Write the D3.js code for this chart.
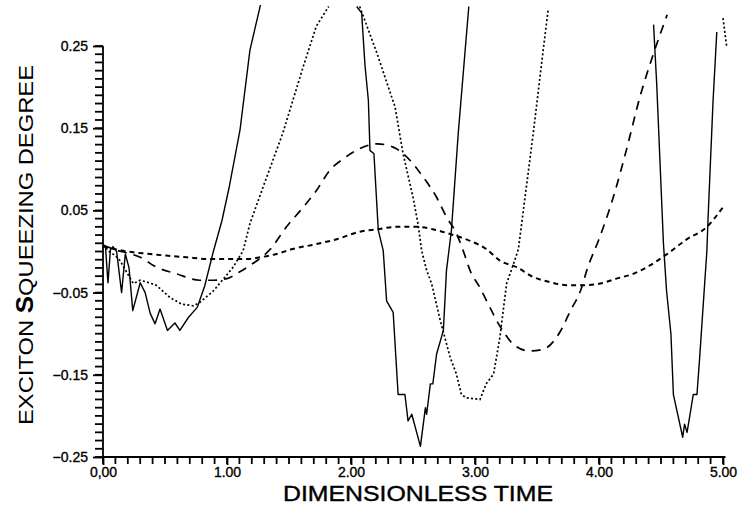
<!DOCTYPE html>
<html>
<head>
<meta charset="utf-8">
<script src="https://cdn.jsdelivr.net/npm/d3@7"></script>
<style>
  body { margin: 0; background: #fff; }
  svg { display: block; }
</style>
</head>
<body>
<svg id="chart" width="741" height="509"></svg>
<script>
// values, [time, squeezing degree]; null = off the plot
const solidCurve = [
  [0, 0.008], [0.02, 0.006], [0.04, -0.038], [0.06, 0.002], [0.08, 0.006], [0.11, 0.0],
  [0.15, -0.05], [0.18, -0.003], [0.21, -0.02], [0.24, -0.072], [0.30, -0.038],
  [0.34, -0.05], [0.38, -0.075], [0.42, -0.088], [0.46, -0.07], [0.52, -0.096],
  [0.58, -0.087], [0.62, -0.096], [0.69, -0.08], [0.76, -0.068], [0.82, -0.042],
  [0.89, 0.0], [0.96, 0.038], [1.02, 0.08], [1.105, 0.148], [1.185, 0.245], [1.27, 0.30],
  null,
  [2.046, 0.298], [2.086, 0.29], [2.113, 0.226], [2.14, 0.184], [2.153, 0.123],
  [2.185, 0.119], [2.22, 0.026], [2.26, 0.001], [2.287, -0.06], [2.34, -0.074],
  [2.38, -0.174], [2.435, -0.174], [2.46, -0.206], [2.49, -0.198], [2.56, -0.237],
  [2.60, -0.19], [2.61, -0.198], [2.64, -0.161], [2.66, -0.161], [2.69, -0.125],
  [2.745, -0.096], [2.77, -0.023], [2.81, 0.026], [2.865, 0.144], [2.95, 0.298],
  null,
  [4.44, 0.276], [4.465, 0.205], [4.52, 0.009], [4.545, -0.048], [4.58, -0.10],
  [4.60, -0.174], [4.675, -0.226], [4.69, -0.21], [4.71, -0.22], [4.73, -0.202],
  [4.76, -0.174], [4.79, -0.174], [4.81, -0.133], [4.87, 0.001], [4.88, 0.042],
  [4.92, 0.184], [4.95, 0.267]
];

const dottedCurve = [
  [0, 0.008], [0.05, 0.0], [0.1, -0.005], [0.137, -0.011], [0.19, -0.025],
  [0.245, -0.039], [0.30, -0.035], [0.35, -0.037], [0.43, -0.041], [0.54, -0.056],
  [0.635, -0.064], [0.73, -0.066], [0.78, -0.062], [0.89, -0.048], [1.05, -0.019],
  [1.13, 0.001], [1.185, 0.034], [1.29, 0.078], [1.45, 0.144], [1.615, 0.225],
  [1.72, 0.274], [1.82, 0.298],
  null,
  [2.07, 0.298], [2.21, 0.241], [2.29, 0.205], [2.355, 0.176], [2.42, 0.119],
  [2.50, 0.066], [2.54, 0.034], [2.57, 0.001], [2.61, -0.023], [2.65, -0.039],
  [2.72, -0.084], [2.80, -0.129], [2.85, -0.149], [2.89, -0.174], [2.93, -0.178],
  [3.04, -0.18], [3.09, -0.161], [3.15, -0.149], [3.20, -0.105], [3.255, -0.039],
  [3.32, -0.011], [3.35, 0.003], [3.47, 0.144], [3.55, 0.245], [3.59, 0.294],
  null,
  [5.0, 0.284], [5.03, 0.249]
];

const longDashCurve = [
  [0, 0.008], [0.1, 0.002], [0.2, -0.002], [0.30, -0.007], [0.43, -0.019],
  [0.59, -0.027], [0.78, -0.035], [0.89, -0.035], [1.0, -0.033], [1.10, -0.025],
  [1.185, -0.017], [1.35, 0.003], [1.48, 0.03], [1.615, 0.054], [1.72, 0.074],
  [1.83, 0.099], [1.94, 0.113], [2.07, 0.125], [2.21, 0.131], [2.34, 0.127],
  [2.475, 0.111], [2.58, 0.091], [2.69, 0.066], [2.77, 0.042], [2.85, 0.022],
  [2.905, 0.001], [2.96, -0.023], [3.04, -0.044], [3.12, -0.068], [3.19, -0.088],
  [3.24, -0.10], [3.31, -0.113], [3.44, -0.121], [3.55, -0.119], [3.685, -0.098],
  [3.77, -0.072], [3.85, -0.048], [3.91, -0.019], [3.995, 0.013], [4.115, 0.066],
  [4.22, 0.123], [4.33, 0.188], [4.44, 0.241], [4.55, 0.288]
];

const shortDashCurve = [
  [0, 0.006], [0.245, -0.001], [0.38, -0.003], [0.51, -0.005], [0.675, -0.007],
  [0.835, -0.009], [1.0, -0.009], [1.185, -0.009], [1.27, -0.007], [1.40, -0.003],
  [1.53, 0.003], [1.72, 0.009], [1.885, 0.015], [2.07, 0.024], [2.21, 0.027],
  [2.37, 0.030], [2.53, 0.030], [2.69, 0.026], [2.825, 0.02], [2.96, 0.013],
  [3.09, 0.003], [3.20, -0.011], [3.335, -0.019], [3.47, -0.031], [3.60, -0.037],
  [3.74, -0.041], [3.87, -0.041], [4.01, -0.039], [4.14, -0.033], [4.28, -0.027],
  [4.41, -0.017], [4.55, -0.003], [4.71, 0.015], [4.87, 0.030], [5.0, 0.054]
];

const yMajorTicks = [-0.25, -0.15, -0.05, 0.05, 0.15, 0.25];
const yTickLabels = ["\u22120.25", "\u22120.15", "\u22120.05", "0.05", "0.15", "0.25"];
const xMajorTicks = [0, 1, 2, 3, 4, 5];
const xTickLabels = ["0,00", "1.00", "2.00", "3.00", "4.00", "5.00"];

const svg = d3.select("#chart");

const x = d3.scaleLinear().domain([0, 5]).range([103, 723]);
const y = d3.scaleLinear().domain([-0.25, 0.25]).range([457, 46]);

// curves are clipped a little above 0.25, like the plotter did
svg.append("defs").append("clipPath").attr("id", "plotClip")
  .append("rect")
  .attr("x", x(0)).attr("y", y(0.30))
  .attr("width", x(5.06) - x(0)).attr("height", y(-0.25) - y(0.30));

// minor ticks every 0.01 / 0.1
const yMinor = d3.range(-25, 26).map(i => i / 100);
const xMinor = d3.range(0, 51).map(i => i / 10);

const ticks = svg.append("g").attr("stroke", "#000").attr("stroke-width", 1.8);

ticks.selectAll("line.ytick")
  .data(yMinor)
  .join("line")
  .attr("class", "ytick")
  .attr("x1", x(0) - 8).attr("x2", x(0))
  .attr("y1", d => y(d)).attr("y2", d => y(d));

ticks.selectAll("line.xtick")
  .data(xMinor)
  .join("line")
  .attr("class", "xtick")
  .attr("x1", d => x(d)).attr("x2", d => x(d))
  .attr("y1", y(-0.25)).attr("y2", y(-0.25) + 7);

// axis lines
ticks.append("line")
  .attr("x1", x(0)).attr("x2", x(0)).attr("y1", y(0.25)).attr("y2", y(-0.25));
ticks.append("line")
  .attr("x1", x(0)).attr("x2", x(5.02)).attr("y1", y(-0.25)).attr("y2", y(-0.25));

// labels through d3 axes
svg.append("g")
  .attr("transform", `translate(${x(0)},0)`)
  .call(d3.axisLeft(y).tickValues(yMajorTicks).tickSize(10).tickSizeOuter(0).tickPadding(5)
    .tickFormat((d, i) => yTickLabels[i]))
  .call(g => g.select(".domain").remove());

svg.append("g")
  .attr("transform", `translate(0,${y(-0.25)})`)
  .call(d3.axisBottom(x).tickValues(xMajorTicks).tickSize(8).tickSizeOuter(0).tickPadding(2)
    .tickFormat((d, i) => xTickLabels[i]))
  .call(g => g.select(".domain").remove());

svg.selectAll(".tick line").attr("stroke", "#000").attr("stroke-width", 1.8);
svg.selectAll(".tick text")
  .attr("font-family", "'Liberation Sans', Arial, sans-serif")
  .attr("font-size", 14)
  .attr("fill", "#000")
  .attr("stroke", "#000").attr("stroke-width", 0.35);

const line = d3.line()
  .defined(d => d !== null)
  .x(d => x(d[0]))
  .y(d => y(d[1]));

const smooth = d3.line()
  .defined(d => d !== null)
  .x(d => x(d[0]))
  .y(d => y(d[1]))
  .curve(d3.curveMonotoneX);

const plot = svg.append("g").attr("clip-path", "url(#plotClip)");

plot.append("path").datum(shortDashCurve)
  .attr("d", smooth).attr("fill", "none").attr("stroke", "#000")
  .attr("stroke-width", 2).attr("stroke-dasharray", "5,4");

plot.append("path").datum(longDashCurve)
  .attr("d", smooth).attr("fill", "none").attr("stroke", "#000")
  .attr("stroke-width", 1.7).attr("stroke-dasharray", "9,7");

plot.append("path").datum(dottedCurve)
  .attr("d", line).attr("fill", "none").attr("stroke", "#000")
  .attr("stroke-width", 1.7).attr("stroke-dasharray", "2,2.3");

plot.append("path").datum(solidCurve)
  .attr("d", line).attr("fill", "none").attr("stroke", "#000")
  .attr("stroke-width", 1.4).attr("stroke-linejoin", "round");

// axis titles
const yTitle = svg.append("text")
  .attr("transform", "translate(33,245) rotate(-90)")
  .attr("text-anchor", "middle")
  .attr("font-family", "'Liberation Sans', Arial, sans-serif")
  .attr("font-size", 21)
  .attr("textLength", 360)
  .attr("lengthAdjust", "spacingAndGlyphs");
yTitle.append("tspan").text("EXCITON ");
yTitle.append("tspan").attr("font-weight", "bold").attr("font-size", 23).text("S");
yTitle.append("tspan").text("QUEEZING DEGREE");

svg.append("text")
  .attr("x", 418).attr("y", 501)
  .attr("text-anchor", "middle")
  .attr("font-family", "'Liberation Sans', Arial, sans-serif")
  .attr("font-size", 22)
  .attr("stroke", "#000").attr("stroke-width", 0.4)
  .attr("textLength", 270)
  .attr("lengthAdjust", "spacingAndGlyphs")
  .text("DIMENSIONLESS TIME");
</script>
</body>
</html>
